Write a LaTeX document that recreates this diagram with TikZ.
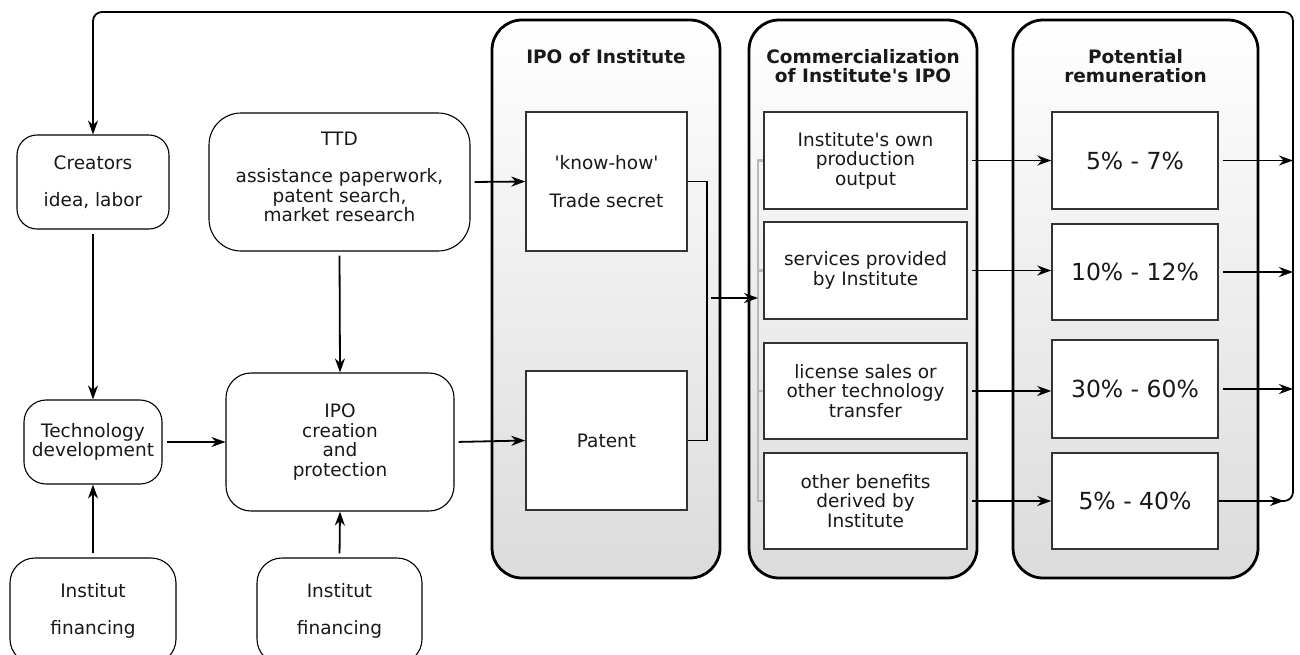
\documentclass[tikz,border=0pt]{standalone}
\usepackage{fontspec}
\setmainfont{DejaVu Sans}
\usetikzlibrary{arrows.meta}

\begin{document}
\begin{tikzpicture}[x=1pt,y=-1pt,
  every node/.style={font=\fontsize{18.5}{19.5}\selectfont, text=black!90},
  txt/.style={align=center, inner sep=0pt},
  flowbox/.style={draw=black, line width=1.1pt, rounded corners=#1, align=center, inner sep=0pt},
  flowbox/.default=20pt,
  panel/.style={draw=black, line width=2.8pt, rounded corners=30pt,
    top color=white, bottom color=gray!28, inner sep=0pt},
  title/.style={align=center, inner sep=0pt, font=\bfseries\fontsize{18.5}{19.5}\selectfont},
  ibox/.style={draw=black!80, line width=1.5pt, fill=white, align=center, inner sep=0pt},
  pct/.style={ibox, font=\fontsize{23.5}{26}\selectfont},
  link/.style={line width=1.8pt, draw=black},
  tip/.style={-{Stealth[length=14pt,width=10pt,inset=4.5pt]}},
  flow/.style={link, tip, shorten <=4pt},
  bus/.style={line width=2.4pt, draw=gray!55}
]
\useasboundingbox (0,0) rectangle (1300,654);
\clip (0,0) rectangle (1300,654);

% ---- left side: inputs and IPO creation ----
\node[flowbox=20pt, minimum width=152pt, minimum height=94pt] (creators) at (93,182)
  {Creators\\[18pt]idea, labor};
\node[flowbox=32pt, minimum width=261pt, minimum height=138pt] (ttd) at (339.5,182) {};
\node[txt] (ttdtext) at (339.5,177)
  {TTD\\[17.5pt]assistance paperwork,\\patent search,\\market research};
\node[flowbox=22pt, minimum width=138pt, minimum height=84pt] (tech) at (93,442)
  {Technology\\development};
\node[flowbox=25pt, minimum width=228pt, minimum height=138pt] (ipoc) at (340,442)
  {IPO\\creation\\and\\protection};
\node[flowbox=25pt, minimum width=166pt, minimum height=106pt] (fin1) at (93,611)
  {Institut\\[18pt]financing};
\node[flowbox=25pt, minimum width=165pt, minimum height=106pt] (fin2) at (339.5,611)
  {Institut\\[18pt]financing};

% ---- three column panels ----
\node[panel, minimum width=228pt, minimum height=558pt] (p1) at (606,299) {};
\node[panel, minimum width=228pt, minimum height=558pt] (p2) at (863,299) {};
\node[panel, minimum width=245pt, minimum height=558pt] (p3) at (1135.5,299) {};
\node[title] (p1t) at (606,57) {IPO of Institute};
\node[title] (p2t) at (863,66) {Commercialization\\of Institute\textquotesingle s IPO};
\node[title] (p3t) at (1135.5,66) {Potential\\remuneration};

% IPO of Institute
\node[ibox, minimum width=161pt, minimum height=139pt] (kh) at (606.5,181.5)
  {\textquotesingle know-how\textquotesingle\\[18pt]Trade secret};
\node[ibox, minimum width=161pt, minimum height=139pt] (patent) at (606.5,440.5) {Patent};

% Commercialization
\node[ibox, minimum width=203pt, minimum height=97pt] (c1) at (865.5,160.5)
  {Institute\textquotesingle s own\\production\\output};
\node[ibox, minimum width=203pt, minimum height=97pt] (c2) at (865.5,270.5)
  {services provided\\by Institute};
\node[ibox, minimum width=203pt, minimum height=96pt] (c3) at (865.5,391)
  {license sales or\\other technology\\transfer};
\node[ibox, minimum width=203pt, minimum height=96pt] (c4) at (865.5,501)
  {other benefits\\derived by\\Institute};

% Remuneration
\node[pct, minimum width=166pt, minimum height=97pt] (r1) at (1135,160.5) {5\% - 7\%};
\node[pct, minimum width=166pt, minimum height=96pt] (r2) at (1135,272) {10\% - 12\%};
\node[pct, minimum width=166pt, minimum height=98pt] (r3) at (1135,389) {30\% - 60\%};
\node[pct, minimum width=166pt, minimum height=96pt] (r4) at (1135,501) {5\% - 40\%};

% ---- helper points ----
\coordinate (join) at (707,298);
\coordinate (bustop) at (758,160.5);
\coordinate (busbot) at (758,501);
\coordinate (rettop) at (1293,12);
\coordinate (retbot) at (1293,501);

% ---- connectors on the left ----
\draw[flow] (creators.south) -- (tech.north);
\draw[flow] (fin1.north) -- (tech.south);
\draw[flow] (tech.east) -- (ipoc.west);
\draw[flow] (ttd.south) -- (ipoc.north);
\draw[flow] (fin2.north) -- (ipoc.south);
\draw[flow] (ttd.east) -- (kh.west);
\draw[flow] (ipoc.east) -- (patent.west);

% join of know-how and patent, into the commercialization bus
\draw[link, line width=1.5pt] (kh.east) -| (join) |- (patent.east);
\draw[bus] (c1.west) -- (c1.west -| bustop) -- (busbot) -- (c4.west);
\draw[bus] (c2.west) -- (c2.west -| bustop);
\draw[bus] (c3.west) -- (c3.west -| bustop);
\draw[flow] (join) -- (join -| bustop);

% commercialization to remuneration
\draw[flow] (c1.east) -- (c1.east -| r1.west);
\draw[flow] (c2.east) -- (c2.east -| r2.west);
\draw[flow] (c3.east) -- (c3.east -| r3.west);
\draw[flow] (c4.east) -- (c4.east -| r4.west);

% remuneration back to creators
\draw[flow] (r1.east) -- (r1.east -| rettop);
\draw[flow] (r2.east) -- (r2.east -| rettop);
\draw[flow] (r3.east) -- (r3.east -| rettop);
\draw[link, rounded corners=9pt, tip]
  (r4.east) -- (retbot) -- (rettop) -- (creators.north |- rettop) -- (creators.north);
\draw[flow] (r4.east) -- ([xshift=-9pt]retbot);
\end{tikzpicture}
\end{document}
